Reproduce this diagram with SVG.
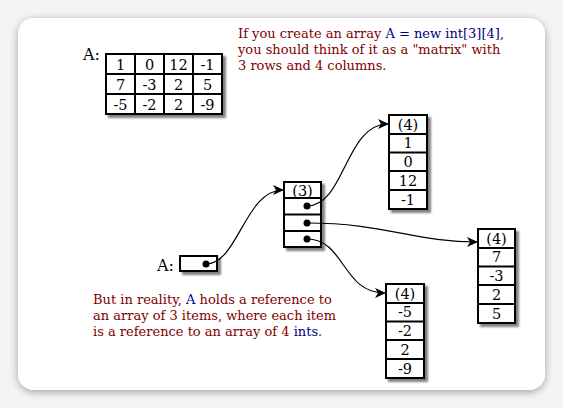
<svg xmlns="http://www.w3.org/2000/svg" width="563" height="408" viewBox="0 0 563 408">
<defs>
<filter id="sh" x="-20%" y="-20%" width="160%" height="160%">
<feGaussianBlur in="SourceAlpha" stdDeviation="1.2"/>
<feOffset dx="3" dy="3" result="o"/>
<feComponentTransfer><feFuncA type="linear" slope="0.5"/></feComponentTransfer>
<feMerge><feMergeNode/><feMergeNode in="SourceGraphic"/></feMerge>
</filter>
<filter id="card" x="-10%" y="-10%" width="120%" height="120%">
<feGaussianBlur in="SourceAlpha" stdDeviation="4"/>
<feOffset dx="0" dy="2"/>
<feComponentTransfer><feFuncA type="linear" slope="0.35"/></feComponentTransfer>
<feMerge><feMergeNode/><feMergeNode in="SourceGraphic"/></feMerge>
</filter>
<marker id="arr" markerWidth="12" markerHeight="10" refX="10" refY="5" orient="auto" markerUnits="userSpaceOnUse">
<path d="M0,0 L11,5 L0,10 L3,5 Z" fill="#000"/>
</marker>
</defs>
<style>
.box{fill:#fff;stroke:#000;stroke-width:2}
.ln{stroke:#000;stroke-width:2;fill:none}
.t{font-family:"DejaVu Serif",serif;font-size:14.5px;fill:#000;text-anchor:middle}
.lbl{font-family:"DejaVu Serif",serif;font-size:16px;fill:#000}
.note{font-family:"DejaVu Serif",serif;font-size:13px;fill:#800000}
.b{fill:#000080}
.con{fill:none;stroke:#000;stroke-width:1.2;marker-end:url(#arr)}
</style>
<rect width="563" height="408" fill="#f4f4f4"/>
<rect x="18" y="18" width="527" height="372" rx="16" fill="#fff" filter="url(#card)"/>

<g id="matrix">
<text class="lbl" x="83" y="60">A:</text>
<g filter="url(#sh)">
<rect class="box" x="106" y="54" width="116" height="60"/>
<path class="ln" d="M135,54V114M164,54V114M193,54V114M106,74H222M106,94H222"/>
</g>
<text class="t" x="120.5" y="70">1</text><text class="t" x="149.5" y="70">0</text><text class="t" x="178.5" y="70">12</text><text class="t" x="207.5" y="70">-1</text>
<text class="t" x="120.5" y="90">7</text><text class="t" x="149.5" y="90">-3</text><text class="t" x="178.5" y="90">2</text><text class="t" x="207.5" y="90">5</text>
<text class="t" x="120.5" y="110">-5</text><text class="t" x="149.5" y="110">-2</text><text class="t" x="178.5" y="110">2</text><text class="t" x="207.5" y="110">-9</text>
</g>

<g id="note-top">
<text class="note" x="238" y="38">If you create an array <tspan class="b">A = new int[3][4]</tspan>,</text>
<text class="note" x="238" y="54">you should think of it as a "matrix" with</text>
<text class="note" x="238" y="70">3 rows and 4 columns.</text>
</g>

<g id="note-bottom">
<text class="note" x="93" y="304">But in reality, <tspan class="b">A</tspan> holds a reference to</text>
<text class="note" x="93" y="320">an array of 3 items, where each item</text>
<text class="note" x="93" y="336">is a reference to an array of 4 <tspan class="b">ints</tspan>.</text>
</g>

<g id="A-var">
<text class="lbl" x="157" y="271">A:</text>
<rect class="box" x="180" y="256" width="37" height="15" filter="url(#sh)"/>
<circle cx="206" cy="264" r="3.5" fill="#000"/>
</g>

<g id="arr3">
<g filter="url(#sh)">
<rect class="box" x="284" y="182" width="37" height="65"/>
<path class="ln" d="M284,198H321M284,214.5H321M284,231H321"/>
</g>
<text class="t" x="302.5" y="196">(3)</text>
<circle cx="307" cy="206" r="3.5" fill="#000"/>
<circle cx="307" cy="223" r="3.5" fill="#000"/>
<circle cx="307" cy="239" r="3.5" fill="#000"/>
</g>

<g id="row0">
<g filter="url(#sh)">
<rect class="box" x="389" y="115" width="38" height="94"/>
<path class="ln" d="M389,134H427M389,152.5H427M389,171H427M389,190H427"/>
</g>
<text class="t" x="408" y="130">(4)</text>
<text class="t" x="408" y="148">1</text>
<text class="t" x="408" y="167">0</text>
<text class="t" x="408" y="186">12</text>
<text class="t" x="408" y="205">-1</text>
</g>

<g id="row1">
<g filter="url(#sh)">
<rect class="box" x="478" y="229" width="37" height="94"/>
<path class="ln" d="M478,248H515M478,266.5H515M478,285H515M478,304H515"/>
</g>
<text class="t" x="496.5" y="244">(4)</text>
<text class="t" x="496.5" y="262">7</text>
<text class="t" x="496.5" y="281">-3</text>
<text class="t" x="496.5" y="300">2</text>
<text class="t" x="496.5" y="319">5</text>
</g>

<g id="row2">
<g filter="url(#sh)">
<rect class="box" x="386" y="284" width="38" height="94"/>
<path class="ln" d="M386,303H424M386,321.5H424M386,340H424M386,359H424"/>
</g>
<text class="t" x="405" y="299">(4)</text>
<text class="t" x="405" y="317">-5</text>
<text class="t" x="405" y="336">-2</text>
<text class="t" x="405" y="355">2</text>
<text class="t" x="405" y="374">-9</text>
</g>

<g id="connectors">
<path class="con" d="M206,264 C238,264 245,190 283,190"/>
<path class="con" d="M307,206 C345,206 345,124 388,124"/>
<path class="con" d="M307,223 C385,223 415,242 477,242"/>
<path class="con" d="M307,239 C345,239 342,293 385,293"/>
</g>
</svg>
